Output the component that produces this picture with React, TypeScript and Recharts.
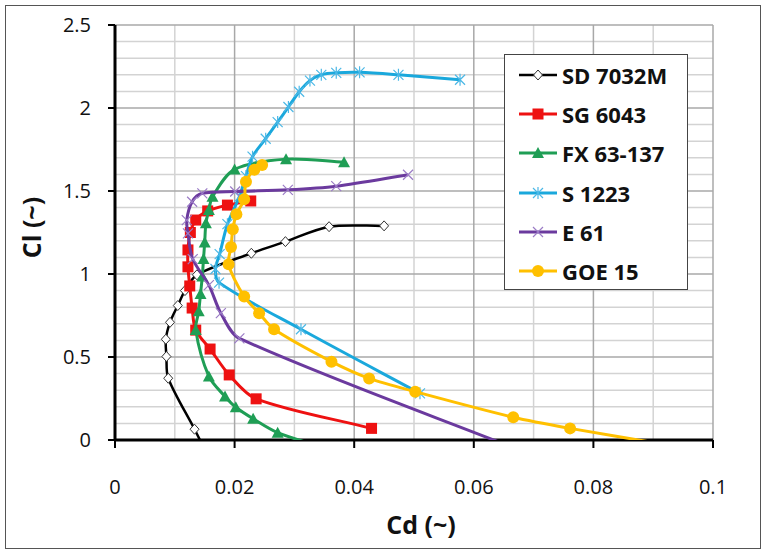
import React from 'react';
import { ScatterChart, Scatter, XAxis, YAxis, ReferenceLine, Legend } from 'recharts';

// axis ticks and grid
const cdTicks = [0, 0.02, 0.04, 0.06, 0.08, 0.1];
const clTicks = [0, 0.5, 1, 1.5, 2, 2.5];
const cdMinor = [0.01, 0.03, 0.05, 0.07, 0.09];
const clMinor = [
  0.1, 0.2, 0.3, 0.4, 0.6, 0.7, 0.8, 0.9, 1.1, 1.2, 1.3, 1.4,
  1.6, 1.7, 1.8, 1.9, 2.1, 2.2, 2.3, 2.4,
];

// polars: [Cd, Cl]
const sd7032m = [
  [0.0156, -0.1], [0.0133, 0.065], [0.0089, 0.372], [0.0086, 0.503], [0.0085, 0.607],
  [0.0092, 0.709], [0.0105, 0.81], [0.0117, 0.9], [0.0137, 0.995], [0.0228, 1.125],
  [0.0285, 1.195], [0.0358, 1.285], [0.045, 1.29],
];
const sg6043 = [
  [0.0429, 0.07], [0.0236, 0.248], [0.0191, 0.392], [0.0159, 0.548], [0.0135, 0.662],
  [0.0129, 0.795], [0.0125, 0.928], [0.0122, 1.043], [0.0122, 1.145], [0.0126, 1.25],
  [0.0135, 1.325], [0.0155, 1.38], [0.0188, 1.415], [0.0227, 1.44],
];
const fx63137 = [
  [0.0352, -0.05], [0.0272, 0.044], [0.0231, 0.128], [0.0202, 0.197], [0.0184, 0.262],
  [0.0157, 0.383], [0.0135, 0.662], [0.014, 0.775], [0.0143, 0.88], [0.0146, 0.985],
  [0.0148, 1.09], [0.015, 1.19], [0.0152, 1.305], [0.0157, 1.385], [0.0163, 1.465],
  [0.02, 1.63], [0.0286, 1.692], [0.0383, 1.673],
];
const s1223 = [
  [0.051, 0.281], [0.0311, 0.667], [0.0174, 0.948], [0.0168, 1.03], [0.0175, 1.12],
  [0.0188, 1.3], [0.0208, 1.466], [0.0219, 1.59], [0.023, 1.707], [0.0252, 1.815],
  [0.0272, 1.915], [0.029, 2.006], [0.0308, 2.098], [0.0326, 2.165], [0.0345, 2.2],
  [0.037, 2.212], [0.0409, 2.215], [0.0474, 2.2], [0.0577, 2.17],
];
const e61 = [
  [0.069, -0.08], [0.0208, 0.612], [0.0177, 0.764], [0.0157, 0.933], [0.013, 1.09],
  [0.0122, 1.245], [0.012, 1.325], [0.0129, 1.435], [0.0146, 1.486], [0.0201, 1.497],
  [0.0289, 1.507], [0.037, 1.529], [0.049, 1.598],
];
const goe15 = [
  [0.0925, -0.03], [0.0761, 0.07], [0.0666, 0.137], [0.0502, 0.291], [0.0425, 0.371],
  [0.0362, 0.472], [0.0266, 0.667], [0.0241, 0.764], [0.0216, 0.864], [0.019, 1.058],
  [0.0194, 1.162], [0.0197, 1.27], [0.0203, 1.36], [0.0216, 1.45], [0.0219, 1.556],
  [0.0233, 1.628], [0.0246, 1.657],
];

const series = [
  { name: 'SD 7032M', points: sd7032m, color: '#000000', marker: 'diamond', width: 2.5 },
  { name: 'SG 6043', points: sg6043, color: '#ee1111', marker: 'square', width: 3 },
  { name: 'FX 63-137', points: fx63137, color: '#1f9e55', marker: 'triangle', width: 3 },
  { name: 'S 1223', points: s1223, color: '#1aa8dc', marker: 'star', width: 3 },
  { name: 'E 61', points: e61, color: '#6b3a9e', marker: 'x', width: 3 },
  { name: 'GOE 15', points: goe15, color: '#ffc000', marker: 'circle', width: 3 },
];

const FONT = '"Open Sans", "Liberation Sans", Arial, sans-serif';

// Excel-style smoothed line: bezier through every point, tangent along the
// neighbours' chord, handle length scaled by the segment's own length
function smoothCurve(context: any) {
  let pts: number[][] = [];
  const k = 0.3;
  const tangent = (a: number[], b: number[]) => {
    const dx = b[0] - a[0];
    const dy = b[1] - a[1];
    const len = Math.hypot(dx, dy) || 1;
    return [dx / len, dy / len];
  };
  return {
    areaStart() {},
    areaEnd() {},
    lineStart() {
      pts = [];
    },
    point(x: number, y: number) {
      pts.push([+x, +y]);
    },
    lineEnd() {
      const n = pts.length;
      if (!n) return;
      context.moveTo(pts[0][0], pts[0][1]);
      for (let i = 0; i < n - 1; i++) {
        const p0 = pts[Math.max(i - 1, 0)];
        const p1 = pts[i];
        const p2 = pts[i + 1];
        const p3 = pts[Math.min(i + 2, n - 1)];
        const seg = Math.hypot(p2[0] - p1[0], p2[1] - p1[1]) * k;
        const t1 = tangent(p0, p2);
        const t2 = tangent(p1, p3);
        context.bezierCurveTo(
          p1[0] + t1[0] * seg,
          p1[1] + t1[1] * seg,
          p2[0] - t2[0] * seg,
          p2[1] - t2[1] * seg,
          p2[0],
          p2[1],
        );
      }
    },
  };
}

function Marker({ kind, cx, cy, color }: { kind: string; cx: number; cy: number; color: string }) {
  if (cx == null || cy == null) return null;
  switch (kind) {
    case 'diamond':
      return (
        <path
          d={`M${cx},${cy - 5}L${cx + 4.5},${cy}L${cx},${cy + 5}L${cx - 4.5},${cy}Z`}
          fill="#fff"
          stroke="#333"
          strokeWidth={1}
        />
      );
    case 'square':
      return <rect x={cx - 5.5} y={cy - 5.5} width={11} height={11} fill={color} />;
    case 'triangle':
      return <path d={`M${cx},${cy - 6}L${cx + 6},${cy + 5}L${cx - 6},${cy + 5}Z`} fill={color} />;
    case 'star':
      return (
        <path
          d={`M${cx - 5},${cy - 5}L${cx + 5},${cy + 5}M${cx - 5},${cy + 5}L${cx + 5},${cy - 5}M${cx},${cy - 6}L${cx},${cy + 6}`}
          stroke="#4cb8e6"
          strokeWidth={1.2}
          fill="none"
        />
      );
    case 'x':
      return (
        <path
          d={`M${cx - 5},${cy - 5}L${cx + 5},${cy + 5}M${cx - 5},${cy + 5}L${cx + 5},${cy - 5}`}
          stroke="#9b7cc6"
          strokeWidth={1.2}
          fill="none"
        />
      );
    default:
      return <circle cx={cx} cy={cy} r={6} fill={color} />;
  }
}

const LegendBox = () => (
  <div
    style={{
      border: '1.5px solid #444',
      background: '#fff',
      width: 184,
      height: 236,
      boxSizing: 'border-box',
      paddingLeft: 14,
      fontFamily: FONT,
    }}
  >
    {series.map((s) => (
      <div key={s.name} style={{ height: 39.3, display: 'flex', alignItems: 'center' }}>
        <svg width={40} height={20}>
          <line x1={0} y1={10} x2={38} y2={10} stroke={s.color} strokeWidth={s.width} />
          <Marker kind={s.marker} cx={19} cy={10} color={s.color} />
        </svg>
        <span style={{ fontSize: 22, fontWeight: 700, color: '#111', marginLeft: 3 }}>{s.name}</span>
      </div>
    ))}
  </div>
);

export default function App() {
  return (
    <div style={{ position: 'absolute', left: 0, top: 0, width: 764, height: 552, background: '#fff' }}>
      <div
        style={{
          position: 'absolute',
          left: 5,
          top: 5,
          width: 756,
          height: 544,
          border: '1px solid #555',
          boxSizing: 'border-box',
        }}
      />
      <ScatterChart width={764} height={552} margin={{ top: 25, right: 51, bottom: 12, left: 15 }}>
        <XAxis
          type="number"
          dataKey="cd"
          domain={[0, 0.1]}
          ticks={cdTicks}
          allowDataOverflow
          height={100}
          tickSize={8}
          tickMargin={32}
          axisLine={{ stroke: '#000', strokeWidth: 3 }}
          tickLine={{ stroke: '#000', strokeWidth: 2 }}
          tick={{ fill: '#111', fontSize: 20, fontFamily: FONT }}
          label={{
            value: 'Cd (~)',
            position: 'insideBottom',
            offset: 6,
            dx: 7,
            style: { fill: '#111', fontSize: 25, fontWeight: 700, fontFamily: FONT },
          }}
        />
        <YAxis
          type="number"
          dataKey="cl"
          domain={[0, 2.5]}
          ticks={clTicks}
          allowDataOverflow
          width={100}
          tickSize={7}
          tickMargin={17}
          axisLine={{ stroke: '#000', strokeWidth: 3 }}
          tickLine={{ stroke: '#000', strokeWidth: 2 }}
          tick={{ fill: '#111', fontSize: 20, fontFamily: FONT }}
          label={{
            value: 'Cl (~)',
            angle: -90,
            position: 'insideLeft',
            offset: 17,
            dy: -5,
            style: { fill: '#111', fontSize: 25, fontWeight: 700, fontFamily: FONT, textAnchor: 'middle' },
          }}
        />
        {cdMinor.map((v) => (
          <ReferenceLine key={`xm${v}`} x={v} stroke="#d3d3d3" strokeWidth={1.5} />
        ))}
        {clMinor.map((v) => (
          <ReferenceLine key={`ym${v}`} y={v} stroke="#d3d3d3" strokeWidth={1.5} />
        ))}
        {cdTicks.slice(1).map((v) => (
          <ReferenceLine key={`xM${v}`} x={v} stroke="#a8a8a8" strokeWidth={1.5} />
        ))}
        {clTicks.slice(1).map((v) => (
          <ReferenceLine key={`yM${v}`} y={v} stroke="#a8a8a8" strokeWidth={1.5} />
        ))}
        {series.map((s) => (
          <Scatter
            key={s.name}
            name={s.name}
            data={s.points.map(([cd, cl]) => ({ cd, cl }))}
            line={{ stroke: s.color, strokeWidth: s.width }}
            lineJointType={smoothCurve as any}
            isAnimationActive={false}
            shape={(p: any) =>
              (p.payload?.cl ?? 0) < 0 ? <g /> : <Marker kind={s.marker} cx={p.cx} cy={p.cy} color={s.color} />
            }
          />
        ))}
        <Legend
          layout="vertical"
          align="center"
          verticalAlign="middle"
          wrapperStyle={{ left: 504, top: 54, width: 184, height: 236 }}
          content={() => <LegendBox />}
        />
      </ScatterChart>
    </div>
  );
}
